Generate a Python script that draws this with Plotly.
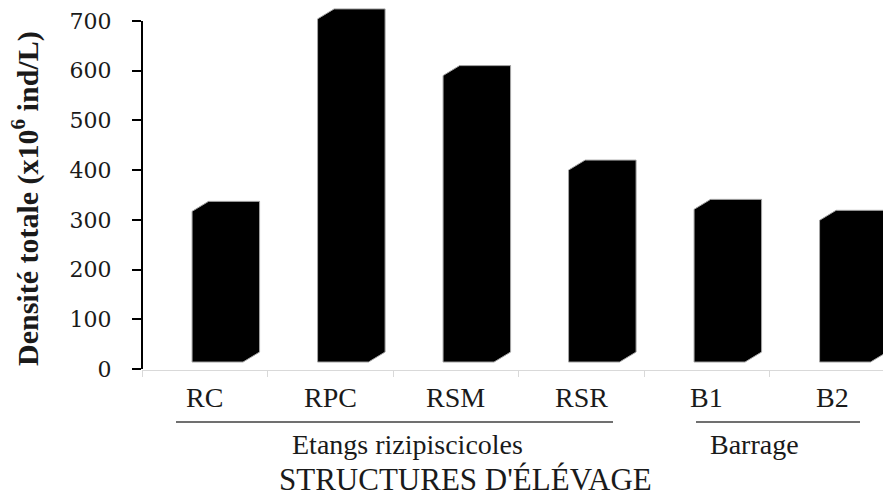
import plotly.graph_objects as go

# Data
categories = ["RC", "RPC", "RSM", "RSR", "B1", "B2"]
densite = [317, 704, 590, 400, 321, 299]
y_ticks = [0, 100, 200, 300, 400, 500, 600, 700]
groups = ["Etangs rizipiscicoles", "Barrage"]

# Geometry of the pseudo-3D columns (axis units)
FRONT_OFFSET = -0.101   # front face left edge relative to category centre
FRONT_WIDTH = 0.406     # width of the front face
DEPTH_X = 0.132         # horizontal depth shift of the back face
DEPTH_Y = 20.1          # vertical depth shift of the back face
FLOOR = 14              # front bottom edge

W, H = 883, 494
M_L, M_R, M_T, M_B = 142, 0, 1, 124
PX_PER_CAT = 125.5
x_range = [-0.5, -0.5 + (W - M_L - M_R) / PX_PER_CAT]
y_range = [-2, 740]
plot_h = H - M_T - M_B
plot_w = W - M_L - M_R

SERIF = "Liberation Serif"
TXT = "#1a1a1a"

fig = go.Figure()

for i, (cat, v) in enumerate(zip(categories, densite)):
    x0 = i + FRONT_OFFSET
    x1 = x0 + FRONT_WIDTH
    xs = [x0, x1, x1 + DEPTH_X, x1 + DEPTH_X, x0 + DEPTH_X, x0, x0]
    ys = [FLOOR, FLOOR, FLOOR + DEPTH_Y, v + DEPTH_Y, v + DEPTH_Y, v, FLOOR]
    fig.add_trace(go.Scatter(
        x=xs, y=ys, mode="lines", fill="toself",
        fillcolor="#000000",
        line=dict(color="rgb(165,165,165)", width=1),
        name=cat, hoverinfo="skip", showlegend=False,
    ))

# Vertical value axis line, drawn from 0 to the last tick only
fig.add_shape(type="line", xref="paper", yref="y",
              x0=0, x1=0, y0=y_ticks[0], y1=y_ticks[-1],
              line=dict(color="#000000", width=2))


def px_to_paper_x(p):
    return (p - M_L) / plot_w


def px_to_paper_y(p):
    return (H - M_B - p) / plot_h


def below_axis(p):
    # pixel shift from the bottom of the plot area down to row p
    return -(p - (H - M_B))


annotations = []
# Category labels
for i, cat in enumerate(categories):
    annotations.append(dict(
        x=i, xref="x", y=0, yref="paper", yanchor="middle", xanchor="center",
        yshift=below_axis(397.5), text=cat, showarrow=False,
        font=dict(family=SERIF, size=28, color=TXT)))

# Group rules and labels (pixel layout: rule span, label centre)
group_layout = [((176, 613), 407), ((696, 860), 754.5)]
for g, ((a, b), cx) in zip(groups, group_layout):
    fig.add_shape(type="line", xref="paper", yref="paper",
                  x0=px_to_paper_x(a), x1=px_to_paper_x(b),
                  y0=px_to_paper_y(422), y1=px_to_paper_y(422),
                  line=dict(color="#404040", width=1.3))
    annotations.append(dict(
        x=px_to_paper_x(cx), xref="paper", y=0, yref="paper",
        yanchor="middle", xanchor="center", yshift=below_axis(444.5),
        text=g, showarrow=False,
        font=dict(family=SERIF, size=28, color=TXT)))

# Axis titles
annotations.append(dict(
    x=px_to_paper_x(465), xref="paper", y=0, yref="paper",
    yanchor="middle", xanchor="center", yshift=below_axis(479),
    text="STRUCTURES D'ÉLÉVAGE", showarrow=False,
    font=dict(family=SERIF, size=31, color=TXT)))
annotations.append(dict(
    x=px_to_paper_x(25), xref="paper", y=px_to_paper_y(199), yref="paper",
    yanchor="middle", xanchor="center", textangle=-90,
    text="<b>Densité totale (x10<sup>6</sup> ind/L)</b>", showarrow=False,
    font=dict(family=SERIF, size=30, color=TXT)))

fig.update_layout(
    width=W, height=H,
    margin=dict(l=M_L, r=M_R, t=M_T, b=M_B, pad=0),
    paper_bgcolor="white", plot_bgcolor="white",
    annotations=annotations,
    xaxis=dict(range=x_range, showgrid=False, zeroline=False,
               showline=True, linecolor="#d9d9d9", linewidth=1,
               tickmode="array",
               tickvals=[i - 0.5 for i in range(len(categories) + 1)],
               ticks="outside", ticklen=6, tickwidth=1, tickcolor="#d9d9d9",
               showticklabels=False, fixedrange=True),
    yaxis=dict(range=y_range, showgrid=False, zeroline=False, showline=False,
               tickmode="array", tickvals=y_ticks,
               ticktext=[str(t) for t in y_ticks],
               ticks="outside", ticklen=9, tickwidth=2, tickcolor="#000000",
               ticklabelstandoff=16,
               tickfont=dict(family="DejaVu Serif", size=22, color=TXT),
               fixedrange=True),
)

fig.write_html("out.html")
